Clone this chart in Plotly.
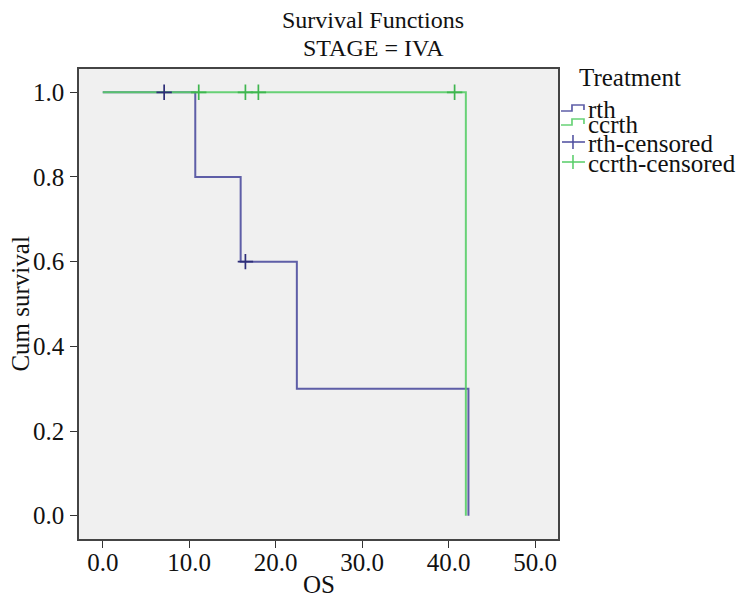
import plotly.graph_objects as go

# ---- data ----
rth_time = [0, 10.7, 15.95, 22.45, 42.3]
rth_surv = [1.0, 0.8, 0.6, 0.3, 0.0]
ccrth_time = [0, 42.0]
ccrth_surv = [1.0, 0.0]
rth_cens_time = [7.1, 16.5]
rth_cens_surv = [1.0, 0.6]
ccrth_cens_time = [11.1, 16.5, 18.0, 40.7]
ccrth_cens_surv = [1.0, 1.0, 1.0, 1.0]
x_ticks = [0, 10, 20, 30, 40, 50]
y_ticks = [0.0, 0.2, 0.4, 0.6, 0.8, 1.0]
legend_labels = ["rth", "ccrth", "rth-censored", "ccrth-censored"]

FONT = "Liberation Serif"
FS = 25
BLUE = "rgba(78,78,158,0.9)"
BLUE_C = "#2e2e78"
GREEN = "rgba(88,205,104,0.9)"
GREEN_C = "#3fb64f"

fig = go.Figure()
fig.add_trace(go.Scatter(x=rth_time, y=rth_surv, mode="lines", line_shape="hv",
                         line=dict(color=BLUE, width=2), name=legend_labels[0]))
fig.add_trace(go.Scatter(x=ccrth_time, y=ccrth_surv, mode="lines", line_shape="hv",
                         line=dict(color=GREEN, width=2), name=legend_labels[1]))
fig.add_trace(go.Scatter(x=rth_cens_time, y=rth_cens_surv, mode="markers",
                         marker=dict(symbol="cross-thin", size=11,
                                     line=dict(color=BLUE_C, width=1.7)),
                         name=legend_labels[2]))
fig.add_trace(go.Scatter(x=ccrth_cens_time, y=ccrth_cens_surv, mode="markers",
                         marker=dict(symbol="cross-thin", size=11,
                                     line=dict(color=GREEN_C, width=1.7)),
                         name=legend_labels[3]))

# page offset (browser body margin)
OFF = 8
# plot area in screen pixels: x 78.5..558, y 69..539
L, R, T, B = 78.5, 558.0, 69.0, 539.0
W, H = 746 - OFF, 598 - OFF
def px(x):
    return (x - L) / (R - L)
def py(y):
    return (B - y) / (B - T)

def txt(text, x, y, size=FS, xanchor="center", angle=0):
    return dict(text=text, x=px(x), y=py(y), xref="paper", yref="paper",
                showarrow=False, xanchor=xanchor, yanchor="middle", textangle=angle,
                font=dict(family=FONT, size=size, color="#111"))

annotations = [
    txt("Survival Functions", 373, 20, size=24),
    txt("STAGE = IVA", 373, 48, size=24),
    txt("OS", (L + R) / 2, 584),
    txt("Cum survival", 19, (T + B) / 2, angle=-90),
    txt("Treatment", 577, 78, xanchor="left"),
]
leg_y = [109, 125, 143, 163]
for lab, yy in zip(legend_labels, leg_y):
    annotations.append(txt(lab, 586, yy, xanchor="left"))

shapes = []
def step_path(ylow, yhigh):
    return (f"M {px(561)},{py(ylow)} L {px(572)},{py(ylow)} L {px(572)},{py(yhigh)} "
            f"L {px(584)},{py(yhigh)} L {px(584)},{py(ylow-1)}")
shapes.append(dict(type="path", xref="paper", yref="paper", path=step_path(111, 105),
                   line=dict(color=BLUE, width=1.7)))
shapes.append(dict(type="path", xref="paper", yref="paper", path=step_path(125, 119),
                   line=dict(color=GREEN, width=1.7)))
for cy, col in [(142, BLUE), (162, GREEN)]:
    shapes.append(dict(type="line", xref="paper", yref="paper", x0=px(562), x1=px(585),
                       y0=py(cy), y1=py(cy), line=dict(color=col, width=1.7)))
    shapes.append(dict(type="line", xref="paper", yref="paper", x0=px(573), x1=px(573),
                       y0=py(cy - 7), y1=py(cy + 7), line=dict(color=col, width=1.7)))

fig.update_layout(
    width=W, height=H,
    margin=dict(l=L - OFF, r=W - (R - OFF), t=T - OFF, b=H - (B - OFF), pad=0,
                autoexpand=False),
    paper_bgcolor="white", plot_bgcolor="#f0f0f0",
    showlegend=False,
    font=dict(family=FONT, size=FS, color="#111"),
    annotations=annotations, shapes=shapes,
    xaxis=dict(range=[-2.75, 52.66], tickvals=x_ticks, tickformat=".1f",
               ticks="outside", ticklen=7, tickcolor="#333", tickwidth=1.3,
               showgrid=False, zeroline=False, showline=True, linecolor="#444",
               linewidth=1.5, mirror=True, automargin=False, ticklabelstandoff=-7,
               tickfont=dict(family=FONT, size=FS)),
    yaxis=dict(range=[-0.055, 1.055], tickvals=y_ticks, tickformat=".1f",
               ticks="outside", ticklen=7, tickcolor="#333", tickwidth=1.3,
               showgrid=False, zeroline=False, showline=True, linecolor="#444",
               linewidth=1.5, mirror=True, automargin=False, ticklabelstandoff=1,
               tickfont=dict(family=FONT, size=FS)),
)

fig.write_html("out.html")
